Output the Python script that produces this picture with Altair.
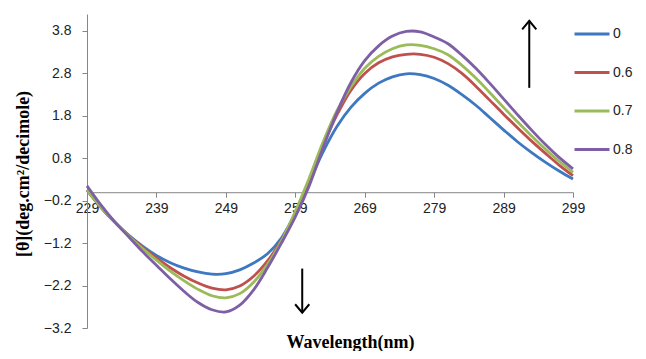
import altair as alt
import pandas as pd

# ---- data ----
wavelength = [229, 231, 233, 235, 237, 239, 241, 243, 245, 247, 249, 251,
              253, 255, 257, 259, 261, 263, 265, 267, 269, 271, 273, 275,
              277, 279, 281, 283, 285, 287, 289, 291, 293, 295, 297, 299]

s_0 = [0.05, -0.36, -0.71, -1.01, -1.27, -1.49, -1.66, -1.79, -1.88, -1.93, -1.92, -1.83,
       -1.67, -1.45, -1.08, -0.50, 0.22, 0.95, 1.55, 2.00, 2.33, 2.57, 2.72, 2.79,
       2.77, 2.68, 2.52, 2.30, 2.05, 1.76, 1.47, 1.19, 0.94, 0.71, 0.50, 0.31]
s_06 = [0.05, -0.35, -0.70, -1.02, -1.30, -1.55, -1.78, -1.98, -2.14, -2.26, -2.30, -2.21,
        -1.98, -1.62, -1.13, -0.50, 0.25, 1.10, 1.82, 2.40, 2.80, 3.05, 3.19, 3.25,
        3.25, 3.18, 3.03, 2.80, 2.50, 2.17, 1.84, 1.52, 1.21, 0.92, 0.64, 0.39]
s_07 = [0.05, -0.35, -0.70, -1.03, -1.33, -1.60, -1.86, -2.09, -2.29, -2.44, -2.49, -2.39,
        -2.12, -1.70, -1.15, -0.45, 0.33, 1.18, 1.92, 2.48, 2.92, 3.20, 3.38, 3.47,
        3.46, 3.38, 3.24, 2.99, 2.69, 2.35, 2.00, 1.66, 1.33, 1.02, 0.73, 0.47]
s_08 = [0.15, -0.30, -0.70, -1.05, -1.40, -1.72, -2.04, -2.34, -2.60, -2.77, -2.82, -2.66,
        -2.30, -1.78, -1.20, -0.58, 0.15, 1.05, 1.88, 2.58, 3.10, 3.45, 3.68, 3.79,
        3.78, 3.66, 3.50, 3.23, 2.92, 2.57, 2.20, 1.83, 1.47, 1.13, 0.82, 0.55]

series_names = ["0", "0.6", "0.7", "0.8"]
series_values = [s_0, s_06, s_07, s_08]
series_colors = ["#3D78C0", "#C0504D", "#9BBB59", "#7E5FA6"]

x_ticks = [229, 239, 249, 259, 269, 279, 289, 299]
y_ticks = [-3.2, -2.2, -1.2, -0.2, 0.8, 1.8, 2.8, 3.8]
x_domain = [229, 299]
y_domain = [-3.2, 4.2]

# arrow annotations (data coordinates)
arrow_up_x = [292.7]
arrow_up_y = [2.46]
arrow_up_y2 = [4.04]
arrow_down_x = [260.0]
arrow_down_y = [-1.80]
arrow_down_y2 = [-2.84]

# ---- build table ----
rows = []
for name, vals in zip(series_names, series_values):
    for w, v in zip(wavelength, vals):
        rows.append({"wavelength": w, "value": v, "series": name})
df = pd.DataFrame(rows)

W, H = 486, 314
zero_offset = -H * (0 - y_domain[0]) / (y_domain[1] - y_domain[0])

xscale = alt.Scale(domain=x_domain, nice=False, zero=False)
yscale = alt.Scale(domain=y_domain, nice=False, zero=False)

x_axis = alt.Axis(values=x_ticks, offset=zero_offset, grid=False,
                  domainColor="#868686", tickColor="#868686", tickSize=5,
                  labelFont="Liberation Sans", labelFontSize=14, labelColor="#222222",
                  labelPadding=4, labelFlush=False, labelOverlap=False,
                  title="Wavelength(nm)", titleFont="Liberation Serif", titleFontSize=18,
                  titleFontWeight="bold", titleColor="#000000",
                  titleX=263, titleY=155, titleAlign="center", titleBaseline="alphabetic")

y_axis = alt.Axis(values=y_ticks, format=".1f", grid=False,
                  domainColor="#868686", tickColor="#868686", tickSize=5,
                  labelFont="Liberation Sans", labelFontSize=14, labelColor="#222222",
                  labelPadding=11, labelFlush=False, labelOverlap=False,
                  title="[θ](deg.cm²/decimole)", titleFont="Liberation Serif", titleFontSize=18,
                  titleFontWeight="bold", titleColor="#000000",
                  titleX=-63.5, titleY=159.5, titleAngle=270, titleAlign="center",
                  titleBaseline="middle")

lines = alt.Chart(df).mark_line(strokeWidth=2.8, interpolate="catmull-rom").encode(
    x=alt.X("wavelength:Q", scale=xscale, axis=x_axis),
    y=alt.Y("value:Q", scale=yscale, axis=y_axis),
    color=alt.Color("series:N",
                    scale=alt.Scale(domain=series_names, range=series_colors),
                    legend=alt.Legend(orient="none", legendX=486, legendY=1, title=None,
                                      symbolType="stroke", symbolStrokeWidth=3,
                                      symbolSize=1225, labelFont="Liberation Sans",
                                      labelFontSize=14, labelColor="#222222",
                                      labelOffset=2, rowPadding=12.5, padding=0)),
    order=alt.Order("series:N"),
)

up_df = pd.DataFrame({"x": arrow_up_x, "y": arrow_up_y, "y2": arrow_up_y2})
down_df = pd.DataFrame({"x": arrow_down_x, "y": arrow_down_y, "y2": arrow_down_y2})

up_rule = alt.Chart(up_df).mark_rule(color="black", strokeWidth=2).encode(
    x=alt.X("x:Q", scale=xscale), y=alt.Y("y:Q", scale=yscale), y2="y2:Q")
up_head = alt.Chart(up_df).mark_point(shape="M-1,1.2L0,0L1,1.2", filled=False, size=200,
                                      color="black", strokeWidth=2, opacity=1).encode(
    x=alt.X("x:Q", scale=xscale), y=alt.Y("y2:Q", scale=yscale))
down_rule = alt.Chart(down_df).mark_rule(color="black", strokeWidth=2).encode(
    x=alt.X("x:Q", scale=xscale), y=alt.Y("y:Q", scale=yscale), y2="y2:Q")
down_head = alt.Chart(down_df).mark_point(shape="M-1,-1.2L0,0L1,-1.2", filled=False, size=200,
                                          color="black", strokeWidth=2, opacity=1).encode(
    x=alt.X("x:Q", scale=xscale), y=alt.Y("y2:Q", scale=yscale))

chart = alt.layer(lines, up_rule, up_head, down_rule, down_head).properties(
    width=W, height=H,
    autosize=alt.AutoSizeParams(type="none"),
    padding={"left": 79, "top": 6, "right": 65, "bottom": 23},
    background="white",
).configure_view(stroke=None)

chart.save("out.html", embed_options={"renderer": "svg", "actions": False})
